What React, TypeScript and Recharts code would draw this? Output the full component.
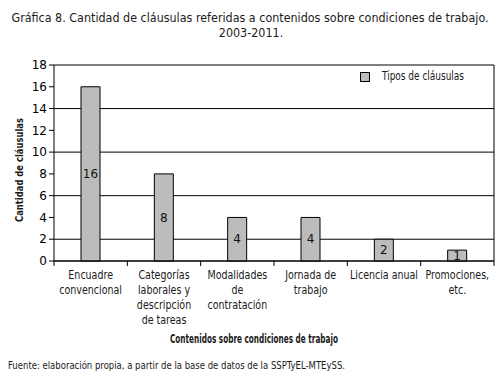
import React from "react";
import {
  BarChart,
  Bar,
  XAxis,
  YAxis,
  CartesianGrid,
  LabelList,
} from "recharts";

const categorias = [
  "Encuadre\nconvencional",
  "Categorías\nlaborales y\ndescripción\nde tareas",
  "Modalidades\nde\ncontratación",
  "Jornada de\ntrabajo",
  "Licencia anual",
  "Promociones,\netc.",
];
const clausulas = [16, 8, 4, 4, 2, 1];
const yTicks = [0, 2, 4, 6, 8, 10, 12, 14, 16, 18];

const data = categorias.map((c, i) => ({ categoria: c, valor: clausulas[i] }));

const FONT = "'DejaVu Sans Condensed', 'DejaVu Sans', sans-serif";
const TAHOMA = "'DejaVu Sans', Verdana, sans-serif";
const INK = "#1a1a1a";

const W = 502;
const H = 378;
const margin = { top: 65, right: 8, bottom: 37, left: 1 };
const bandWidth = (W - margin.left - 53 - margin.right) / categorias.length;

const CategoryTick = (props: any) => {
  const { x, y, payload, index } = props;
  const lines = String(payload.value).split("\n");
  return (
    <g>
      {index === 0 && (
        <line x1={x - bandWidth / 2} x2={x - bandWidth / 2} y1={y} y2={y + 5} stroke="#000" />
      )}
      <line x1={x + bandWidth / 2} x2={x + bandWidth / 2} y1={y} y2={y + 5} stroke="#000" />
      <g transform={`translate(${x},0) scale(0.88,1)`}>
        {lines.map((l, i) => (
          <text
            key={i}
            x={0}
            y={y + 18 + i * 15}
            textAnchor="middle"
            fontFamily={FONT}
            fontSize={12}
            fill={INK}
          >
            {l}
          </text>
        ))}
      </g>
    </g>
  );
};

export default function App() {
  return (
    <div style={{ position: "absolute", left: 0, top: 0, width: W, height: H, background: "#fff" }}>
      <BarChart width={W} height={H} data={data} margin={margin} barSize={19}>
        <CartesianGrid stroke="#000" vertical={true} verticalPoints={[494]} />
        <XAxis
          dataKey="categoria"
          interval={0}
          height={80}
          axisLine={{ stroke: "#000" }}
          tickLine={false}
          tickSize={0}
          tickMargin={0}
          tick={<CategoryTick />}
        />
        <YAxis
          domain={[0, 18]}
          ticks={yTicks}
          width={53}
          axisLine={{ stroke: "#000" }}
          tickLine={{ stroke: "#000" }}
          tickSize={5}
          tick={{ fontFamily: TAHOMA, fontSize: 12, fill: "#000" }}
        />
        <Bar
          dataKey="valor"
          name="Tipos de cláusulas"
          fill="#bcbcbc"
          stroke="#000"
          strokeWidth={1}
          isAnimationActive={false}
        >
          <LabelList dataKey="valor" position="center" fontFamily={TAHOMA} fontSize={12} fill="#111" />
        </Bar>
      </BarChart>
      <svg
        width={W}
        height={H}
        style={{ position: "absolute", left: 0, top: 0, pointerEvents: "none" }}
        fontFamily={FONT}
        fill={INK}
      >
        <g transform="translate(250,22) scale(0.955,1)">
          <text x={0} y={0} textAnchor="middle" fontSize={13}>
            Gráfica 8. Cantidad de cláusulas referidas a contenidos sobre condiciones de trabajo.
          </text>
        </g>
        <g transform="translate(251,37) scale(0.955,1)">
          <text x={0} y={0} textAnchor="middle" fontSize={13}>
            2003-2011.
          </text>
        </g>
        <text
          transform="translate(23,170) rotate(-90)"
          textAnchor="middle"
          fontSize={11}
          fontWeight="bold"
          textLength={104}
          lengthAdjust="spacingAndGlyphs"
        >
          Cantidad de cláusulas
        </text>
        <text x={254} y={343} textAnchor="middle" fontSize={12} fontWeight="bold" textLength={168} lengthAdjust="spacingAndGlyphs">
          Contenidos sobre condiciones de trabajo
        </text>
        <text x={8} y={369} fontSize={11} textLength={337} lengthAdjust="spacingAndGlyphs">
          Fuente: elaboración propia, a partir de la base de datos de la SSPTyEL-MTEySS.
        </text>
        <rect x={360.5} y={72.5} width={9} height={9} fill="#bcbcbc" stroke="#000" />
        <text x={382} y={80} fontSize={12} textLength={82} lengthAdjust="spacingAndGlyphs">
          Tipos de cláusulas
        </text>
      </svg>
    </div>
  );
}
